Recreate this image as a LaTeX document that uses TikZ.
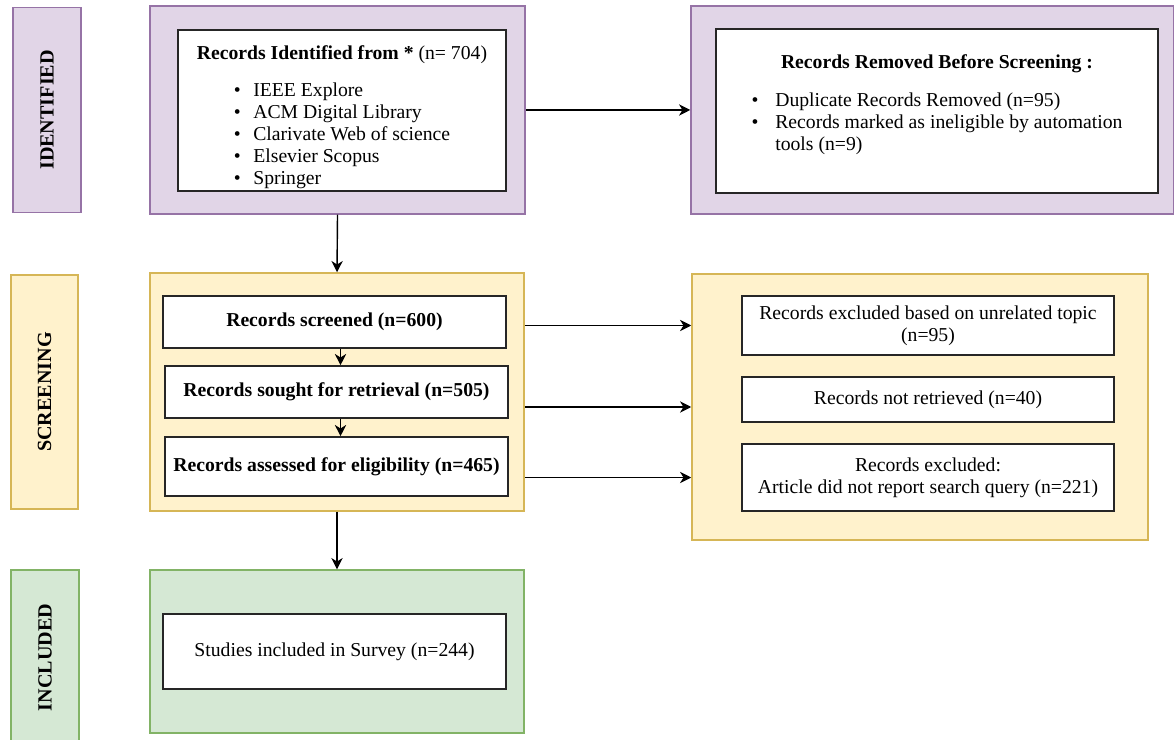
\documentclass[tikz,border=0pt]{standalone}
\usepackage{fontspec}
\setmainfont{Liberation Serif}
\usetikzlibrary{arrows.meta}
\definecolor{purpfill}{HTML}{E1D5E7}
\definecolor{purpline}{HTML}{9673A6}
\definecolor{yelfill}{HTML}{FFF2CC}
\definecolor{yelline}{HTML}{D6B656}
\definecolor{grnfill}{HTML}{D5E8D4}
\definecolor{grnline}{HTML}{82B366}
\newcommand\txtsize{\fontsize{14}{15.7}\selectfont}

\begin{document}
\begin{tikzpicture}[x=0.025cm,y=-0.025cm,
  phase/.style={draw=#1line,fill=#1fill,line width=1pt,inner sep=0pt,rotate=90,font=\fontsize{14.3}{16}\selectfont\bfseries},
  group/.style={draw=#1line,fill=#1fill,line width=1pt,inner sep=0pt},
  box/.style={draw=black!85,fill=white,line width=1.1pt,inner sep=0pt,align=center,font=\txtsize},
  bbox/.style={box,font=\txtsize\bfseries},
  arr/.style={-{Stealth[length=8pt,width=8pt,inset=2.5pt]},line width=1pt}]
\useasboundingbox (0,0) rectangle (1174,740);

% identification
\node[phase=purp,minimum width=5.125cm,minimum height=1.7cm] (labI) at (47,110) {IDENTIFIED};
\node[group=purp,minimum width=9.375cm,minimum height=5.2cm] (outI) at (337.5,110) {};
\node[box,minimum width=8.2cm,minimum height=4.025cm] (srcI) at (342,110.5)
  {\rule{0pt}{21pt}\textbf{Records Identified from *} (n= 704)\\[11pt]
   \begin{tabular}{@{}l@{\hspace{9pt}}l@{}}
   \textbullet & IEEE Explore\\
   \textbullet & ACM Digital Library\\
   \textbullet & Clarivate Web of science\\
   \textbullet & Elsevier Scopus\\
   \textbullet & Springer
   \end{tabular}};
\node[group=purp,minimum width=12.075cm,minimum height=5.2cm] (remO) at (932.5,110) {};
\node[box,minimum width=11.05cm,minimum height=4.1cm] (remI) at (937,111)
  {\textbf{Records Removed Before Screening :}\\[12pt]
   \begin{tabular}{@{}l@{\hspace{12pt}}l@{}}
   \textbullet & Duplicate Records Removed (n=95)\\
   \textbullet & Records marked as ineligible by automation\\
   & tools (n=9)\\[7pt]
   \end{tabular}};
\draw[arr] (outI) -- (remO);

% screening
\node[phase=yel,minimum width=5.85cm,minimum height=1.675cm] (labS) at (44.5,392) {SCREENING};
\node[group=yel,minimum width=9.35cm,minimum height=5.95cm] (outS) at (337,392) {};
\node[bbox,minimum width=8.575cm,minimum height=1.3cm] (scr1) at (334.5,322) {Records screened (n=600)};
\node[bbox,minimum width=8.575cm,minimum height=1.3cm] (scr2) at (336.5,392) {Records sought for retrieval (n=505)};
\node[bbox,minimum width=8.575cm,minimum height=1.475cm] (scr3) at (336.5,466.5) {Records assessed for eligibility (n=465)};
\draw[arr] ([xshift=0.15cm]scr1.south) -- ([xshift=0.15cm]scr1.south |- scr2.north);
\draw[arr] ([xshift=0.1cm]scr2.south) -- ([xshift=0.1cm]scr2.south |- scr3.north);

\node[group=yel,minimum width=11.4cm,minimum height=6.65cm] (outE) at (920,407) {};
\node[box,minimum width=9.3cm,minimum height=1.475cm] (exc1) at (928,325.5) {Records excluded based on unrelated topic\\(n=95)};
\node[box,minimum width=9.3cm,minimum height=1.125cm] (exc2) at (928,399.5) {Records not retrieved (n=40)};
\node[box,minimum width=9.3cm,minimum height=1.675cm] (exc3) at (928,477.5) {Records excluded:\\Article did not report search query (n=221)};
\draw[arr] (outS.east |- exc1) -- (outE.west |- exc1);
\draw[arr] (outS.east |- outE.west) -- (outE.west);
\draw[arr] (outS.east |- exc3) -- (outE.west |- exc3);
\draw[arr] (outI.south) -- (outS.north);

% included
\node[phase=grn,minimum width=4.375cm,minimum height=1.7cm] (labN) at (45,657.5) {INCLUDED};
\node[group=grn,minimum width=9.35cm,minimum height=4.075cm] (outN) at (337,651.5) {};
\node[box,minimum width=8.575cm,minimum height=1.875cm] (incl) at (334.5,651.5) {Studies included in Survey (n=244)};
\draw[arr] (outS.south) -- (outN.north);

\end{tikzpicture}
\end{document}
